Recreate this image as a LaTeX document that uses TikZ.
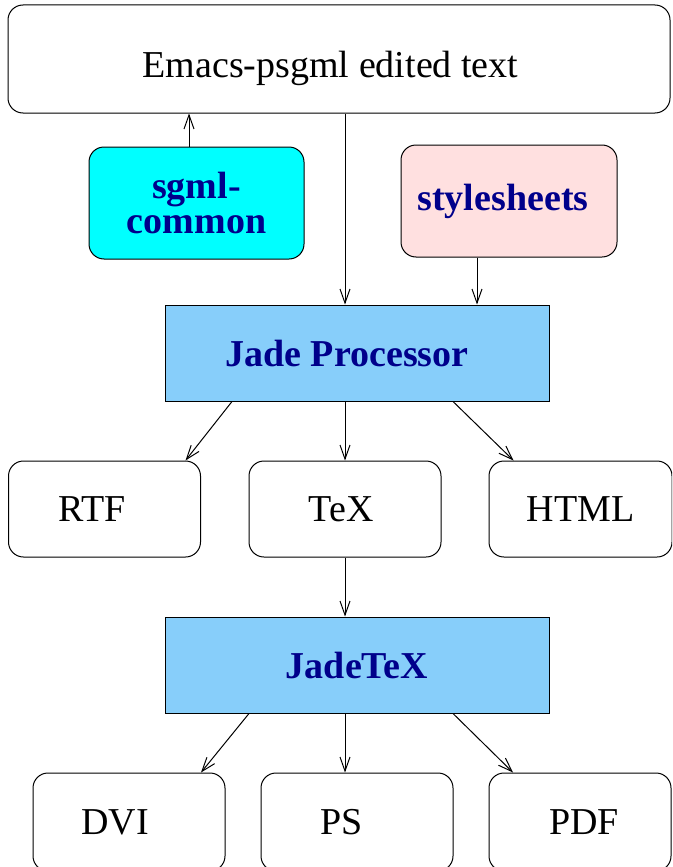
\documentclass[tikz,border=0pt]{standalone}
\usepackage{fontspec}
\setmainfont{Liberation Serif}
\usetikzlibrary{arrows.meta}
\definecolor{cyanfill}{HTML}{00FFFF}
\definecolor{pinkfill}{HTML}{FFE0E0}
\definecolor{bluefill}{HTML}{87CEFA}
\definecolor{navytext}{HTML}{00008B}
\begin{document}
\begin{tikzpicture}[x=1pt,y=-1pt,
  every node/.style={font=\fontsize{38}{35}\selectfont, inner sep=0pt},
  whitebox/.style={draw=black, line width=1pt, rounded corners=15pt, fill=white},
  colbox/.style={draw=black, line width=1pt, rounded corners=15pt, font=\fontsize{38}{35}\selectfont\bfseries, text=navytext, align=center},
  procbox/.style={draw=black, line width=1pt, fill=bluefill, font=\fontsize{38}{35}\selectfont\bfseries, text=navytext, minimum width=384pt, minimum height=96pt},
  smallbox/.style={whitebox, minimum width=192pt, minimum height=96pt},
  conn/.style={line width=1pt, -{Straight Barb[length=14pt,width=10pt]}}
]
\useasboundingbox (0,0) rectangle (672,867);
\clip (0,0) rectangle (672,867);
% top
\node[whitebox, minimum width=662pt, minimum height=108pt] (emacs) at (339,59) {\raisebox{-19pt}[0pt][0pt]{Emacs-psgml edited text}\hspace*{17pt}};
\node[colbox, fill=cyanfill, minimum width=215pt, minimum height=112pt] (sgml) at (196.5,203) {sgml-\\common};
\node[colbox, fill=pinkfill, minimum width=216pt, minimum height=112pt] (style) at (509,201) {stylesheets\hspace*{12pt}};
\node[procbox] (jade) at (357,353) {Jade Processor\hspace*{20pt}};
\node[smallbox] (rtf) at (104.5,509) {RTF\hspace*{25pt}};
\node[smallbox] (tex) at (345,509) {TeX\hspace*{8pt}};
\node[smallbox, minimum width=183pt] (html) at (580.5,509) {HTML};
\node[procbox] (jadetex) at (357,665) {JadeTeX};
\node[smallbox, minimum width=192pt, minimum height=98pt] (dvi) at (129,822) {DVI\hspace*{28pt}};
\node[smallbox, minimum width=192pt, minimum height=98pt] (ps) at (357,822) {PS\hspace*{30pt}};
\node[smallbox, minimum width=182pt, minimum height=98pt] (pdf) at (580,822) {\hspace*{8pt}PDF};
% connectors
\draw[conn] ([xshift=-7.5pt]sgml.north) -- ([xshift=-150pt]emacs.south);
\draw[conn] ([xshift=6pt]emacs.south) -- ([xshift=-12pt]jade.north);
\draw[conn] ([xshift=-32pt]style.south) -- ([xshift=120pt]jade.north);
\draw[conn] ([xshift=-125pt]jade.south) -- ([xshift=81pt]rtf.north);
\draw[conn] ([xshift=-12pt]jade.south) -- (tex.north);
\draw[conn] ([xshift=96pt]jade.south) -- ([xshift=-67pt]html.north);
\draw[conn] (tex.south) -- ([xshift=-12pt]jadetex.north);
\draw[conn] ([xshift=-108pt]jadetex.south) -- ([xshift=72pt]dvi.north);
\draw[conn] ([xshift=-12pt]jadetex.south) -- ([xshift=-12pt]ps.north);
\draw[conn] ([xshift=96pt]jadetex.south) -- ([xshift=-67pt]pdf.north);
\end{tikzpicture}
\end{document}
